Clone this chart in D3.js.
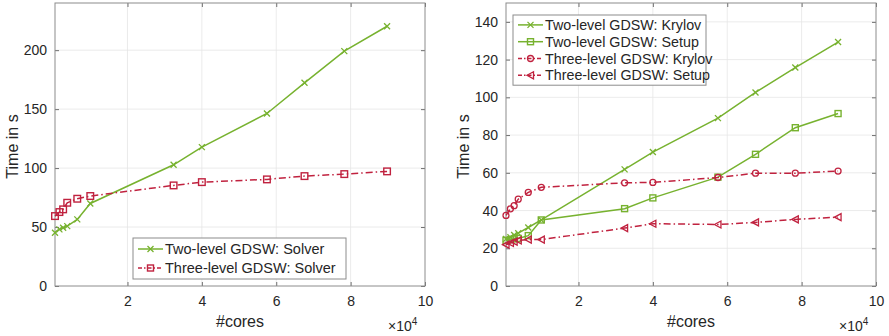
<!DOCTYPE html>
<html>
<head>
<meta charset="utf-8">
<script src="https://cdn.jsdelivr.net/npm/d3@7/dist/d3.min.js"></script>
<style>
  html, body { margin: 0; padding: 0; background: #fff; }
  svg text { font-family: "Liberation Sans", Arial, Helvetica, sans-serif; fill: #262626; }
</style>
</head>
<body>
<svg id="chart" width="889" height="336"></svg>
<script>
// Core counts (x values shared by all series)
const cores = [512, 1700, 2700, 3800, 6500, 10000, 32400, 40000, 57500, 67600, 78300, 89800];

// Left panel: total solver time
const twoLevelSolver   = [45.2, 48.0, 49.4, 50.8, 56.5, 70.0, 102.8, 117.8, 146.3, 172.3, 199.2, 220.3];
const threeLevelSolver = [59.3, 62.7, 65.0, 70.6, 74.0, 76.3, 85.3, 88.1, 90.4, 93.2, 94.9, 97.2];

// Right panel: Krylov / setup breakdown
const twoLevelKrylov   = [24.9, 25.8, 27.0, 28.0, 31.0, 35.0, 61.8, 71.0, 89.0, 102.6, 115.8, 129.3];
const twoLevelSetup    = [24.2, 24.6, 25.0, 25.2, 26.7, 35.0, 41.0, 46.7, 57.7, 69.8, 83.9, 91.4];
const threeLevelKrylov = [37.4, 40.9, 42.6, 46.0, 49.6, 52.3, 54.7, 54.9, 57.5, 59.8, 59.8, 60.9];
const threeLevelSetup  = [21.9, 22.8, 23.5, 24.2, 24.6, 24.6, 30.7, 33.0, 32.6, 33.7, 35.3, 36.5];

const xTicks = [20000, 40000, 60000, 80000, 100000];
const xTickLabels = ["2", "4", "6", "8", "10"];
const yTicksLeft = [0, 50, 100, 150, 200];
const yTicksRight = [0, 20, 40, 60, 80, 100, 120, 140];

const GREEN = "#77b22f";
const RED = "#c0223f";
const DASHDOT = "7,3,1.5,3";

const svg = d3.select("#chart");

function drawMarker(g, type, x, y, color, s = 3) {
  if (type === "x") {
    g.append("path").attr("d", `M${x-s},${y-s}L${x+s},${y+s}M${x-s},${y+s}L${x+s},${y-s}`)
      .attr("stroke", color).attr("stroke-width", 1.3).attr("fill", "none");
  } else if (type === "square") {
    g.append("rect").attr("x", x - s).attr("y", y - s).attr("width", 2*s).attr("height", 2*s)
      .attr("stroke", color).attr("stroke-width", 1.4).attr("fill", "none");
  } else if (type === "circle") {
    g.append("circle").attr("cx", x).attr("cy", y).attr("r", s)
      .attr("stroke", color).attr("stroke-width", 1.3).attr("fill", "none");
  } else if (type === "tri") {
    g.append("path").attr("d", `M${x-s-0.5},${y}L${x+s},${y-s-0.5}L${x+s},${y+s+0.5}Z`)
      .attr("stroke", color).attr("stroke-width", 1.3).attr("fill", "none");
  }
}

function panel(opts) {
  const { left, right, top, bottom, yMax, yTicks, series, legend } = opts;
  const x = d3.scaleLinear().domain([cores[0], 100000]).range([left, right]);
  const y = d3.scaleLinear().domain([0, yMax]).range([bottom, top]);
  const g = svg.append("g");

  // grid
  g.append("g").selectAll("line").data(xTicks.slice(0, -1)).join("line")
    .attr("x1", d => x(d)).attr("x2", d => x(d)).attr("y1", top).attr("y2", bottom)
    .attr("stroke", "#e6e6e6").attr("stroke-width", 0.8);
  g.append("g").selectAll("line").data(yTicks.filter(d => d > 0)).join("line")
    .attr("x1", left).attr("x2", right).attr("y1", d => y(d)).attr("y2", d => y(d))
    .attr("stroke", "#e6e6e6").attr("stroke-width", 0.8);

  // axes via d3 axis generators
  const xAxis = d3.axisBottom(x).tickValues(xTicks).tickFormat((d, i) => xTickLabels[i])
    .tickSizeInner(-4).tickSizeOuter(0).tickPadding(10);
  const yAxis = d3.axisLeft(y).tickValues(yTicks).tickSizeInner(-4).tickSizeOuter(0).tickPadding(8);
  const gx = g.append("g").attr("transform", `translate(0,${bottom})`).call(xAxis);
  const gy = g.append("g").attr("transform", `translate(${left},0)`).call(yAxis);
  // mirrored ticks on the top and right edges of the box
  const xAxisTop = d3.axisTop(x).tickValues(xTicks).tickFormat("").tickSizeInner(-4).tickSizeOuter(0);
  const yAxisRight = d3.axisRight(y).tickValues(yTicks).tickFormat("").tickSizeInner(-4).tickSizeOuter(0);
  const gxt = g.append("g").attr("transform", `translate(0,${top})`).call(xAxisTop);
  const gyr = g.append("g").attr("transform", `translate(${right},0)`).call(yAxisRight);
  [gx, gy, gxt, gyr].forEach(a => {
    a.select(".domain").remove();
    a.selectAll("line").attr("stroke", "#6e6e6e");
    a.selectAll("text").attr("font-size", 14).style("fill", "#262626")
      .attr("font-family", '"Liberation Sans", Arial, sans-serif');
  });

  // box
  g.append("rect").attr("x", left).attr("y", top).attr("width", right - left).attr("height", bottom - top)
    .attr("fill", "none").attr("stroke", "#8c8c8c").attr("stroke-width", 1);

  // series
  const line = d3.line().x((d, i) => x(cores[i])).y(d => y(d));
  series.forEach(s => {
    g.append("path").datum(s.values).attr("d", line)
      .attr("fill", "none").attr("stroke", s.color).attr("stroke-width", 1.5)
      .attr("stroke-dasharray", s.dash || null);
    const mg = g.append("g");
    s.values.forEach((v, i) => drawMarker(mg, s.marker, x(cores[i]), y(v), s.color, s.size || 3));
  });

  // labels
  g.append("text").attr("x", (left + right) / 2).attr("y", 327).attr("text-anchor", "middle")
    .attr("font-size", 16).text("#cores");
  const ex = g.append("text").attr("x", right - 37).attr("y", 331).attr("font-size", 14);
  ex.append("tspan").text("\u00d710");
  ex.append("tspan").attr("dy", -6).attr("font-size", 10).text("4");
  g.append("text").attr("transform", `translate(${left - 37},${(top + bottom) / 2 + 2}) rotate(-90)`)
    .attr("text-anchor", "middle").attr("font-size", 16).text("Time in s");

  // legend
  const lg = g.append("g");
  lg.append("rect").attr("x", legend.x).attr("y", legend.y).attr("width", legend.w)
    .attr("height", legend.rowH * series.length + 2 * legend.pad)
    .attr("fill", "#fff").attr("stroke", "#8c8c8c").attr("stroke-width", 1);
  series.forEach((s, i) => {
    const cy = legend.y + legend.pad + legend.rowH * (i + 0.5);
    const lx = legend.x + 5;
    lg.append("line").attr("x1", lx).attr("x2", lx + 25).attr("y1", cy).attr("y2", cy)
      .attr("stroke", s.color).attr("stroke-width", 1.5).attr("stroke-dasharray", s.dash ? "4,2,1.5,2" : null);
    drawMarker(lg, s.marker, lx + 12.5, cy, s.color, 3);
    lg.append("text").attr("x", lx + 27).attr("y", cy + legend.font * 0.36).attr("font-size", legend.font).text(s.label);
  });
}

panel({
  left: 55, right: 425, top: 3, bottom: 286, yMax: 240, yTicks: yTicksLeft,
  series: [
    { label: "Two-level GDSW: Solver", values: twoLevelSolver, color: GREEN, marker: "x" },
    { label: "Three-level GDSW: Solver", values: threeLevelSolver, color: RED, marker: "square", dash: DASHDOT, size: 3.3 }
  ],
  legend: { x: 133, y: 238, w: 213, rowH: 19, pad: 1.5, font: 14.5 }
});

panel({
  left: 506, right: 876, top: 3, bottom: 286, yMax: 150, yTicks: yTicksRight,
  series: [
    { label: "Two-level GDSW: Krylov", values: twoLevelKrylov, color: GREEN, marker: "x" },
    { label: "Two-level GDSW: Setup", values: twoLevelSetup, color: GREEN, marker: "square" },
    { label: "Three-level GDSW: Krylov", values: threeLevelKrylov, color: RED, marker: "circle", dash: DASHDOT },
    { label: "Three-level GDSW: Setup", values: threeLevelSetup, color: RED, marker: "tri", dash: DASHDOT }
  ],
  legend: { x: 513, y: 15, w: 193, rowH: 16.8, pad: 1.5, font: 14.3 }
});
</script>
</body>
</html>
